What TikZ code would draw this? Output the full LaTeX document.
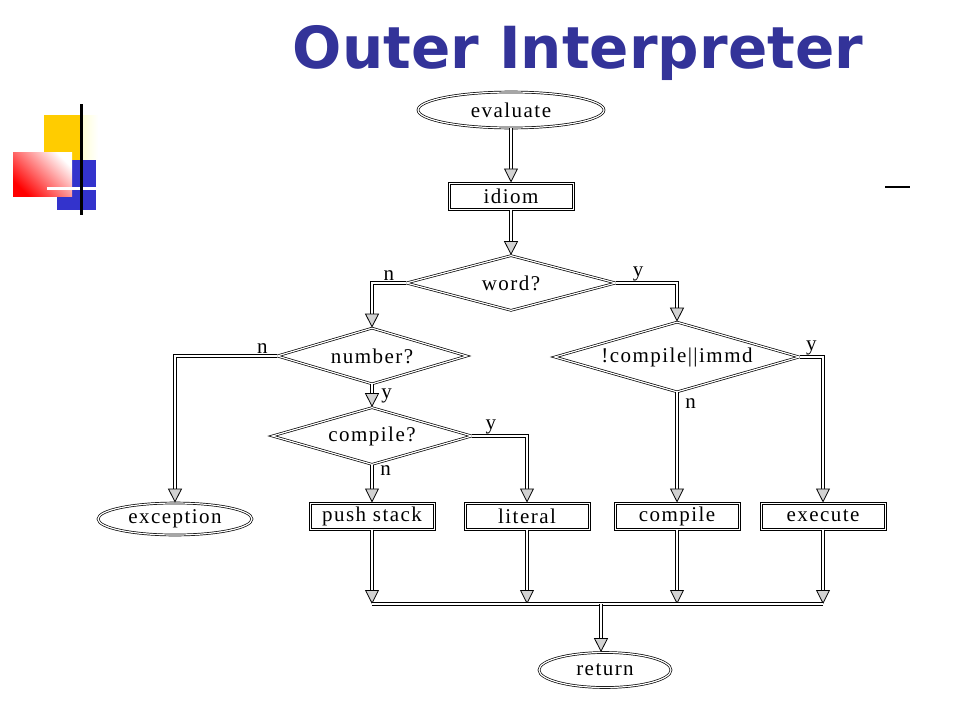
\documentclass[tikz,border=0pt]{standalone}
\usepackage{fontspec}
\setmainfont{Liberation Serif}
\newfontfamily\titlefont{DejaVu Sans}
\newfontfamily\chartfont{Liberation Serif}[LetterSpace=7]
\usetikzlibrary{positioning,shapes.geometric,arrows.meta}
\definecolor{titleblue}{RGB}{51,51,153}
\definecolor{deckyellow}{RGB}{255,204,0}
\definecolor{deckblue}{RGB}{51,51,204}
\tikzstyle{block} = [draw, line width=1pt, double, double distance=1pt, rectangle, minimum height=26pt, minimum width=124pt, inner sep=2pt, font=\chartfont\fontsize{21}{23}\selectfont]
\tikzstyle{term} = [draw, line width=0.7pt, double, double distance=1.2pt, ellipse, inner sep=0pt, font=\chartfont\fontsize{21}{23}\selectfont]
\tikzstyle{decision} = [draw, line width=0.7pt, double, double distance=1.2pt, diamond, aspect=3.5, inner sep=0pt, font=\chartfont\fontsize{21}{23}\selectfont]
\tikzstyle{flow} = [draw, line width=0.8pt, double, double distance=2pt, -{Triangle[length=14pt, width=14pt, fill=gray!35]}]
\tikzstyle{yn} = [font=\chartfont\fontsize{21}{23}\selectfont, inner sep=2pt]

\begin{document}
\begin{tikzpicture}[x=1pt, y=-1pt]
		\useasboundingbox (0,0) rectangle (960,720);
		% slide decoration
		\fill[deckyellow] (44,115) rectangle (83,160);
		\shade[left color=yellow!15, right color=white] (83,115) rectangle (98,160);
		\fill[deckblue] (57,160) rectangle (96,210);
		\shade[left color=red, right color=white, shading angle=135] (13,152) rectangle (72,196);
		\fill[white] (47,187) rectangle (96,190);
		\fill[black] (80,104) rectangle (83,215);
		\fill[black] (885,186) rectangle (910,188);
		\node (title) [anchor=base, text=titleblue, font=\titlefont\bfseries\fontsize{58}{60}\selectfont] at (578,68) {Outer Interpreter};
		
		% flowchart
		\node (ev) [term, minimum width=186pt, minimum height=36pt] at (511,110) {evaluate};
		\node (id) [block] at (511,196) {idiom};
		\node (wd) [decision, minimum width=210pt, minimum height=55pt] at (511,283) {word?};
		\node (num) [decision, minimum width=190pt, minimum height=56pt] at (372,356) {number?};
		\node (cmp) [decision, minimum width=200pt, minimum height=57pt] at (372,436) {compile?};
		\node (cim) [decision, minimum width=245pt, minimum height=70pt] at (677,357) {!compile||immd};
		\node (exc) [term, minimum width=154pt, minimum height=32pt] at (175,519) {exception};
		\node (push) [block] at (372,516) {push stack};
		\node (lit) [block] at (527,516) {literal};
		\node (com) [block] at (677,516) {compile};
		\node (exe) [block] at (823,516) {execute};
		\node (ret) [term, minimum width=132pt, minimum height=35pt] at (605,670) {return};
		\coordinate (bus) at (601,604);
		
		\draw [flow] (ev) -- (id);
		\draw [flow] (id) -- (wd);
		\draw [flow] (wd.west) -| node[yn, above, pos=0.25] {n} (num.north);
		\draw [flow] (wd.east) -| node[yn, above, pos=0.18] {y} (cim.north);
		\draw [flow] (num.west) -| node[yn, above, pos=0.07] {n} (exc.north);
		\draw [flow] (num.south) -- node[yn, right, xshift=7pt] {y} (cmp.north);
		\draw [flow] (cmp.east) -| node[yn, above, pos=0.17] {y} (lit.north);
		\draw [flow] (cmp.south) -- node[yn, right, pos=0.15, xshift=6pt] {n} (push.north);
		\draw [flow] (cim.east) -| node[yn, above, pos=0.25] {y} (exe.north);
		\draw [flow] (cim.south) -- node[yn, right, pos=0.1, xshift=6pt] {n} (com.north);
		
		\draw [flow] (push.south) -- (push.south |- bus);
		\draw [flow] (lit.south) -- (lit.south |- bus);
		\draw [flow] (com.south) -- (com.south |- bus);
		\draw [flow] (exe.south) -- (exe.south |- bus);
		\draw [line width=0.8pt, double, double distance=2pt] (push.south |- bus) -- (exe.south |- bus);
		\draw [flow] (bus) -- (bus |- ret.north);
	\end{tikzpicture}
\end{document}
